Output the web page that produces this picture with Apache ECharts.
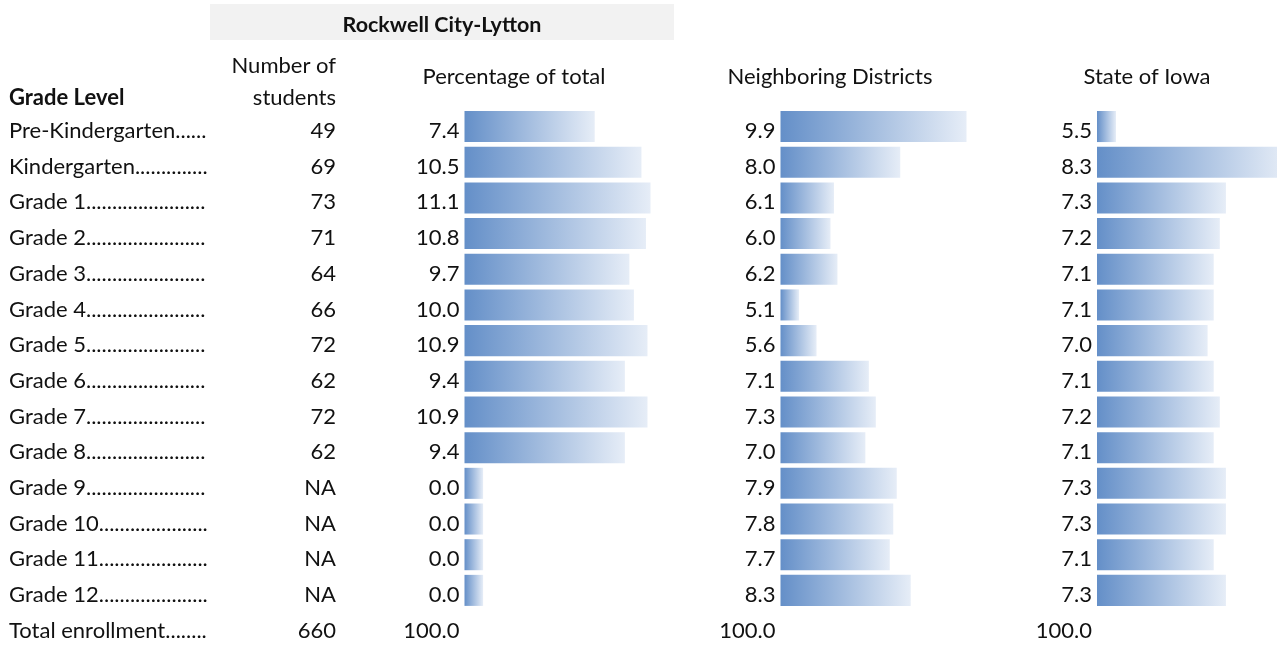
<!DOCTYPE html>
<html>
<head>
<meta charset="utf-8">
<style>
html, body { margin: 0; padding: 0; background: #fff; }
#main { width: 1277px; height: 646px; }
</style>
<script src="https://cdn.jsdelivr.net/npm/echarts@6/dist/echarts.min.js"></script>
</head>
<body>
<div id="main"></div>
<script>
// grade rows, last one is the total line (no bar)
var grades = ['Pre-Kindergarten', 'Kindergarten', 'Grade 1', 'Grade 2', 'Grade 3', 'Grade 4',
    'Grade 5', 'Grade 6', 'Grade 7', 'Grade 8', 'Grade 9', 'Grade 10', 'Grade 11', 'Grade 12',
    'Total enrollment'];
var students = ['49', '69', '73', '71', '64', '66', '72', '62', '72', '62', 'NA', 'NA', 'NA', 'NA', '660'];
var pctOfTotal = [7.4, 10.5, 11.1, 10.8, 9.7, 10.0, 10.9, 9.4, 10.9, 9.4, 0.0, 0.0, 0.0, 0.0];
var neighboring = [9.9, 8.0, 6.1, 6.0, 6.2, 5.1, 5.6, 7.1, 7.3, 7.0, 7.9, 7.8, 7.7, 8.3];
var stateIowa = [5.5, 8.3, 7.3, 7.2, 7.1, 7.1, 7.0, 7.1, 7.2, 7.1, 7.3, 7.3, 7.1, 7.3];
var totals = [100.0, 100.0, 100.0];
var columnTitles = ['Percentage of total', 'Neighboring Districts', 'State of Iowa'];

var FONT = 'Lato';
var FS = 22;
var rowH = 35.68;
var top0 = 108.7;
var textTop = top0 + 4.5;   // text rows sit a bit lower than the bars

var myChart = echarts.init(document.getElementById('main'));

// pad grade names with dots like the source table
var ctx = document.createElement('canvas').getContext('2d');
ctx.font = FS + 'px ' + FONT;
function dotted(name) {
    var s = name;
    while (ctx.measureText(s + '.').width <= 199) s += '.';
    return s;
}

// excel style data bars: shortest bar is ~10% of the column
function axisMin(vals) {
    var lo = Math.min.apply(null, vals), hi = Math.max.apply(null, vals);
    return (lo - 0.1 * hi) / 0.9;
}

var gradient = new echarts.graphic.LinearGradient(0, 0, 1, 0, [
    {offset: 0, color: '#648fc8'},
    {offset: 1, color: '#e6edf7'}
]);

var cols = [
    {left: 464.5, width: 186, vals: pctOfTotal, center: 514},
    {left: 780.5, width: 186, vals: neighboring, center: 830},
    {left: 1097, width: 190, vals: stateIowa, center: 1147}
];

var labelBase = {interval: 0, color: '#111', fontFamily: FONT, fontSize: FS};
function hiddenLine() { return {axisLine: {show: false}, axisTick: {show: false}}; }

var grid = [{left: 9, top: textTop, width: 327, height: rowH * grades.length, outerBoundsMode: 'none'}];
var xAxis = [{type: 'value', gridIndex: 0, show: false}];
var yAxis = [
    echarts.util.extend({
        type: 'category', gridIndex: 0, data: grades, inverse: true, position: 'left',
        axisLabel: echarts.util.extend({
            align: 'left', margin: 0,
            formatter: function (v) { return dotted(v); }
        }, labelBase)
    }, hiddenLine()),
    echarts.util.extend({
        type: 'category', gridIndex: 0, data: grades, inverse: true, position: 'right',
        axisLabel: echarts.util.extend({
            align: 'right', margin: 0,
            formatter: function (v, i) { return students[i]; }
        }, labelBase)
    }, hiddenLine())
];
var series = [];

cols.forEach(function (c, k) {
    var mn = axisMin(c.vals);
    // bar grid
    var gi = grid.length;
    grid.push({left: c.left, top: top0, width: c.width, height: rowH * grades.length, outerBoundsMode: 'none'});
    xAxis.push({
        type: 'value', gridIndex: gi, show: false,
        min: mn, max: Math.max.apply(null, c.vals), startValue: mn
    });
    var yi = yAxis.length;
    yAxis.push(echarts.util.extend({
        type: 'category', gridIndex: gi, data: grades, inverse: true, axisLabel: {show: false}
    }, hiddenLine()));
    series.push({
        type: 'bar', xAxisIndex: gi, yAxisIndex: yi,
        data: c.vals, barCategoryGap: '13%', silent: true,
        itemStyle: {color: gradient}
    });
    // value text grid
    var ti = grid.length;
    grid.push({left: c.left, top: textTop, width: c.width, height: rowH * grades.length, outerBoundsMode: 'none'});
    xAxis.push({type: 'value', gridIndex: ti, show: false});
    yAxis.push(echarts.util.extend({
        type: 'category', gridIndex: ti, data: grades, inverse: true,
        axisLabel: echarts.util.extend({
            margin: 5,
            formatter: function (v, i) {
                return i < c.vals.length ? c.vals[i].toFixed(1) : totals[k].toFixed(1);
            }
        }, labelBase)
    }, hiddenLine()));
});

var headerStyle = {fontFamily: FONT, fontSize: FS, fill: '#111'};
var graphic = [
    {type: 'rect', shape: {x: 210, y: 4, width: 464, height: 36}, style: {fill: '#f2f2f2'}},
    {type: 'text', x: 442, y: 25, style: {text: 'Rockwell City-Lytton', fontFamily: FONT, fontSize: 21.5,
        fontWeight: 'bold', fill: '#111', align: 'center', verticalAlign: 'middle'}},
    {type: 'text', x: 9, y: 98, style: {text: 'Grade Level', fontFamily: FONT, fontSize: 22,
        fontWeight: 'bold', fill: '#111', align: 'left', verticalAlign: 'middle'}},
    {type: 'text', x: 336, y: 82, style: echarts.util.extend({text: 'Number of\nstudents',
        align: 'right', verticalAlign: 'middle', lineHeight: 32}, headerStyle)}
];
cols.forEach(function (c, k) {
    graphic.push({type: 'text', x: c.center, y: 77, style: echarts.util.extend({text: columnTitles[k],
        align: 'center', verticalAlign: 'middle'}, headerStyle)});
});

var option = {
    animation: false,
    backgroundColor: '#fff',
    grid: grid,
    xAxis: xAxis,
    yAxis: yAxis,
    series: series,
    graphic: graphic
};
myChart.setOption(option);
</script>
</body>
</html>
